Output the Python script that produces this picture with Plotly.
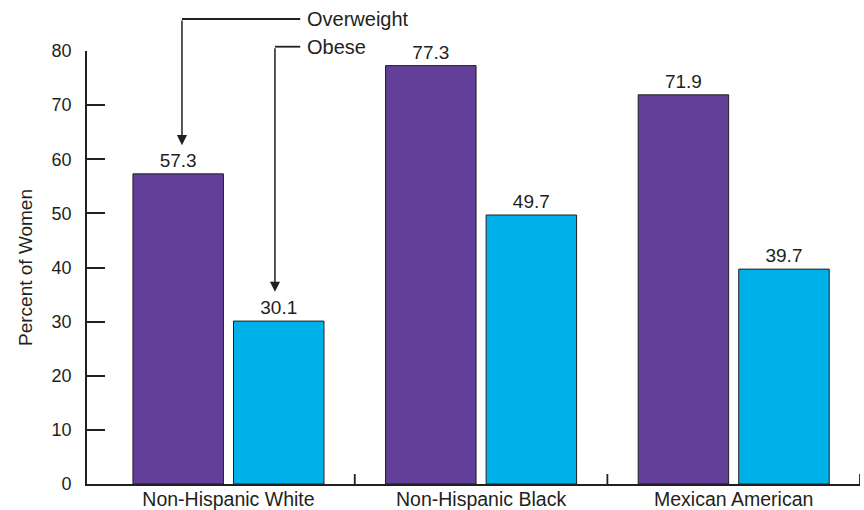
import plotly.graph_objects as go

categories = ["Non-Hispanic White", "Non-Hispanic Black", "Mexican American"]
overweight = [57.3, 77.3, 71.9]
obese = [30.1, 49.7, 39.7]
series_names = ["Overweight", "Obese"]
y_ticks = [0, 10, 20, 30, 40, 50, 60, 70, 80]

PURPLE = "#623f98"
BLUE = "#00b0e8"
INK = "#231f20"
FONT = "Liberation Sans, Arial, sans-serif"

x_pos = list(range(len(categories)))

fig = go.Figure()
fig.add_trace(go.Bar(
    x=x_pos, y=overweight, name=series_names[0],
    marker=dict(color=PURPLE, line=dict(color=INK, width=1)),
    text=[f"{v:.1f}" for v in overweight], textposition="outside",
    textfont=dict(size=19, color=INK, family=FONT), cliponaxis=False,
))
fig.add_trace(go.Bar(
    x=x_pos, y=obese, name=series_names[1],
    marker=dict(color=BLUE, line=dict(color=INK, width=1)),
    text=[f"{v:.1f}" for v in obese], textposition="outside",
    textfont=dict(size=19, color=INK, family=FONT), cliponaxis=False,
))

fig.update_layout(
    width=864, height=510,
    margin=dict(l=87, r=4, t=51, b=26),
    paper_bgcolor="white", plot_bgcolor="white",
    barmode="group", bargap=0.204, bargroupgap=0.1,
    showlegend=False,
    font=dict(family=FONT, color=INK, size=18),
    xaxis=dict(
        range=[-0.56, 2.5], tickvals=x_pos, ticktext=categories,
        ticks="", showline=True, linecolor=INK, linewidth=1.8,
        showgrid=False, zeroline=False, automargin=False,
        tickfont=dict(size=19.5, color=INK, family=FONT),
        ticklabelstandoff=-3,
    ),
    yaxis=dict(
        range=[0, 80], tickvals=y_ticks, ticks="inside", ticklen=18,
        tickwidth=1.8, tickcolor=INK,
        showline=True, linecolor=INK, linewidth=1.8,
        showgrid=False, zeroline=False, automargin=False,
        tickfont=dict(size=18, color=INK, family=FONT),
        ticklabelstandoff=10,
        title=dict(text="Percent of Women", font=dict(size=19, color=INK, family=FONT), standoff=14),
    ),
)

# group separator ticks on the x axis
for b in [0.5, 1.5, 2.5]:
    fig.add_shape(type="line", xref="x", yref="y", x0=b, x1=b,
                  ysizemode="pixel", yanchor=0, y0=0, y1=10,
                  line=dict(color=INK, width=1.8))

# callout labels with arrows: (label, arrow x, tip y, leader y (paper), tail y (data), text x)
callouts = [
    (series_names[0], -0.184, 62.6, 1.0739, 85.9, 0.303),
    (series_names[1], 0.184, 35.5, 1.0099, 80.8, 0.303),
]
for label, ax_x, tip_y, py, tail_y, tx in callouts:
    fig.add_shape(type="line", xref="x", yref="paper", x0=ax_x, x1=0.284, y0=py, y1=py,
                  line=dict(color=INK, width=1.8))
    fig.add_annotation(x=ax_x, y=tip_y, xref="x", yref="y",
                       ax=ax_x, ay=tail_y, axref="x", ayref="y",
                       text="", showarrow=True, arrowhead=2, arrowsize=1.35,
                       arrowwidth=1.5, arrowcolor=INK)
    fig.add_annotation(x=tx, y=py, xref="x", yref="paper", text=label,
                       showarrow=False, xanchor="left", yanchor="middle",
                       font=dict(size=20, color=INK, family=FONT))

fig.write_html("out.html", config={"displayModeBar": False},
               post_script="document.body.style.margin='0';")
